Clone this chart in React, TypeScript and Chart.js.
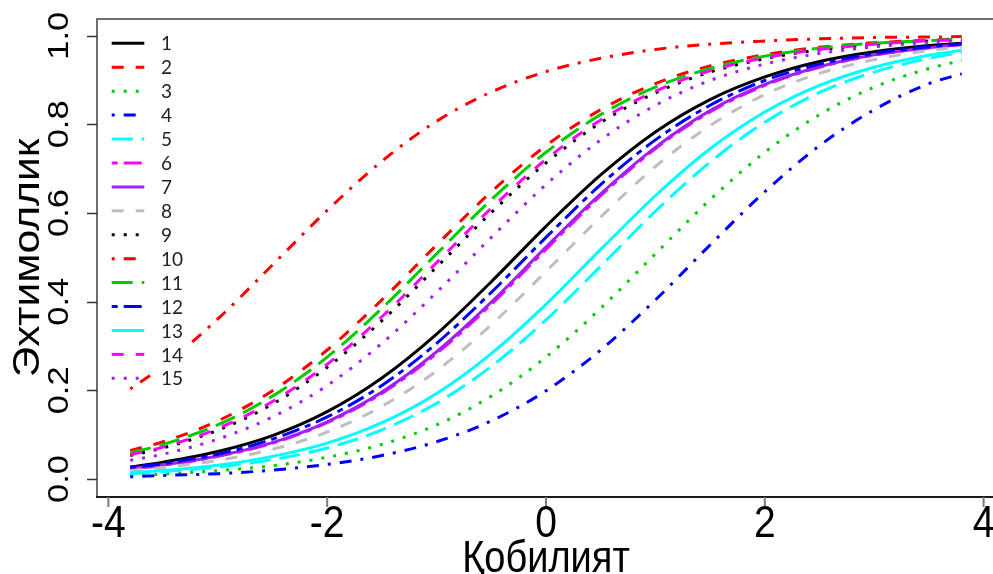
import React, { useEffect, useRef } from "react";
import { Chart, registerables } from "chart.js";

Chart.register(...registerables);

// Ability values (x) at which each curve was read
const THETA = [-3.8, -3.5, -3, -2.5, -2, -1.5, -1, -0.5, 0, 0.5, 1, 1.5, 2, 2.5, 3, 3.5, 3.8];

// Probability values, one array per item
const ITEM_1 = [0.027, 0.038, 0.062, 0.098, 0.152, 0.228, 0.327, 0.445, 0.570, 0.686, 0.783, 0.856, 0.907, 0.942, 0.964, 0.978, 0.983];
const ITEM_2 = [0.064, 0.084, 0.131, 0.199, 0.291, 0.404, 0.528, 0.648, 0.752, 0.833, 0.892, 0.932, 0.957, 0.974, 0.984, 0.990, 0.993];
const ITEM_3 = [0.008, 0.011, 0.019, 0.030, 0.049, 0.078, 0.122, 0.187, 0.275, 0.385, 0.508, 0.630, 0.737, 0.822, 0.884, 0.926, 0.944];
const ITEM_4 = [0.005, 0.008, 0.012, 0.020, 0.033, 0.053, 0.084, 0.131, 0.199, 0.291, 0.404, 0.528, 0.648, 0.752, 0.833, 0.892, 0.914];
const ITEM_5 = [0.012, 0.017, 0.027, 0.044, 0.070, 0.111, 0.171, 0.254, 0.359, 0.480, 0.604, 0.715, 0.805, 0.872, 0.918, 0.949, 0.962];
const ITEM_6 = [0.023, 0.031, 0.051, 0.081, 0.127, 0.193, 0.283, 0.394, 0.518, 0.639, 0.745, 0.828, 0.888, 0.929, 0.956, 0.973, 0.980];
const ITEM_7 = [0.024, 0.032, 0.052, 0.082, 0.129, 0.196, 0.287, 0.399, 0.523, 0.643, 0.748, 0.831, 0.890, 0.930, 0.957, 0.973, 0.980];
const ITEM_8 = [0.019, 0.026, 0.042, 0.067, 0.106, 0.164, 0.244, 0.348, 0.468, 0.591, 0.705, 0.797, 0.867, 0.915, 0.946, 0.967, 0.975];
const ITEM_9 = [0.053, 0.070, 0.110, 0.169, 0.252, 0.357, 0.478, 0.601, 0.713, 0.804, 0.871, 0.918, 0.948, 0.968, 0.980, 0.988, 0.991];
const ITEM_10 = [0.203, 0.255, 0.361, 0.483, 0.606, 0.717, 0.807, 0.873, 0.919, 0.949, 0.969, 0.981, 0.988, 0.993, 0.996, 0.997, 0.998];
const ITEM_11 = [0.059, 0.078, 0.122, 0.187, 0.275, 0.385, 0.508, 0.630, 0.737, 0.822, 0.884, 0.926, 0.954, 0.972, 0.983, 0.989, 0.992];
const ITEM_12 = [0.026, 0.035, 0.056, 0.090, 0.140, 0.211, 0.306, 0.421, 0.545, 0.664, 0.765, 0.843, 0.899, 0.936, 0.960, 0.975, 0.982];
const ITEM_13 = [0.014, 0.019, 0.031, 0.051, 0.081, 0.127, 0.193, 0.283, 0.394, 0.518, 0.639, 0.745, 0.828, 0.888, 0.929, 0.956, 0.967];
const ITEM_14 = [0.055, 0.072, 0.114, 0.175, 0.259, 0.366, 0.488, 0.611, 0.721, 0.810, 0.875, 0.921, 0.950, 0.969, 0.981, 0.989, 0.991];
const ITEM_15 = [0.042, 0.056, 0.090, 0.140, 0.211, 0.306, 0.421, 0.545, 0.664, 0.765, 0.843, 0.899, 0.936, 0.960, 0.975, 0.985, 0.989];

const ITEMS = [ITEM_1, ITEM_2, ITEM_3, ITEM_4, ITEM_5, ITEM_6, ITEM_7, ITEM_8, ITEM_9, ITEM_10, ITEM_11, ITEM_12, ITEM_13, ITEM_14, ITEM_15];
const ITEM_LABELS = ["1", "2", "3", "4", "5", "6", "7", "8", "9", "10", "11", "12", "13", "14", "15"];

const X_TICKS = [-4, -2, 0, 2, 4];
const X_TICK_LABELS = ["-4", "-2", "0", "2", "4"];
const Y_TICKS = [0, 0.2, 0.4, 0.6, 0.8, 1.0];
const Y_TICK_LABELS = ["0.0", "0.2", "0.4", "0.6", "0.8", "1.0"];
const X_TITLE = "Қобилият";
const Y_TITLE = "Эхтимоллик";

// Styles (R palette + line types, cycling)
const PALETTE = ["#000000", "#FF0000", "#00CD00", "#0000FF", "#00FFFF", "#FF00FF", "#A020F0", "#BEBEBE"];
const DASHES: number[][] = [[], [12, 12], [3, 9], [3, 9, 12, 9], [21, 9], [6, 6, 18, 6]];
const LINE_W = 3;
const STRETCH = 1.15;

function drawText(ctx: CanvasRenderingContext2D, text: string, x: number, y: number, font: string, align: CanvasTextAlign, rotate: boolean, stretch: number, baseline: CanvasTextBaseline = "alphabetic") {
  ctx.save();
  ctx.translate(x, y);
  ctx.scale(1, stretch);
  if (rotate) ctx.rotate(-Math.PI / 2);
  ctx.font = font;
  ctx.textAlign = align;
  ctx.textBaseline = baseline;
  ctx.fillText(text, 0, 0);
  ctx.restore();
}

const overlayPlugin = {
  id: "rOverlay",
  afterDatasetsDraw(chart: any) {
    const ctx: CanvasRenderingContext2D = chart.ctx;
    ctx.save();
    const x0 = 111.7, x1 = 144.3, textX = 161;
    ITEM_LABELS.forEach((lab, i) => {
      const ry = 43.3 + i * 23.93;
      ctx.beginPath();
      ctx.setLineDash(DASHES[i % 6]);
      ctx.lineDashOffset = 0;
      ctx.strokeStyle = PALETTE[i % 8];
      ctx.lineWidth = LINE_W;
      ctx.lineCap = "butt";
      ctx.moveTo(x0, ry);
      ctx.lineTo(x1, ry);
      ctx.stroke();
      ctx.setLineDash([]);
      ctx.fillStyle = "#ffffff";
      ctx.fillRect(152, ry - 12, 36, 24);
      ctx.fillStyle = "#222222";
      ctx.font = "19px Lato";
      ctx.textAlign = "left";
      ctx.textBaseline = "middle";
      ctx.fillText(lab, textX, ry + 1);
    });
    ctx.restore();
  },
  afterDraw(chart: any) {
    const ctx: CanvasRenderingContext2D = chart.ctx;
    const a = chart.chartArea;
    const xs = chart.scales.x;
    const ys = chart.scales.y;
    ctx.save();
    ctx.setLineDash([]);
    // frame
    ctx.lineWidth = 2;
    ctx.strokeStyle = "#6e6e6e";
    ctx.beginPath();
    ctx.moveTo(a.left, a.bottom);
    ctx.lineTo(a.left, a.top);
    ctx.lineTo(a.right + 5, a.top);
    ctx.stroke();
    ctx.strokeStyle = "#1a1a1a";
    ctx.beginPath();
    ctx.moveTo(a.left - 1, a.bottom);
    ctx.lineTo(a.right + 5, a.bottom);
    ctx.stroke();
    // y ticks
    ctx.strokeStyle = "#333333";
    ctx.lineWidth = 1.5;
    Y_TICKS.forEach((v) => {
      const py = Math.round(ys.getPixelForValue(v)) + 0.5;
      ctx.beginPath();
      ctx.moveTo(a.left - 10, py);
      ctx.lineTo(a.left, py);
      ctx.stroke();
    });
    // x ticks
    ctx.strokeStyle = "#7a7a7a";
    ctx.lineWidth = 2;
    X_TICKS.forEach((v) => {
      const px = xs.getPixelForValue(v);
      ctx.beginPath();
      ctx.moveTo(px, a.bottom);
      ctx.lineTo(px, a.bottom + 10);
      ctx.stroke();
    });
    ctx.fillStyle = "#000000";
    X_TICKS.forEach((v, i) => {
      drawText(ctx, X_TICK_LABELS[i], xs.getPixelForValue(v), 537, "39px 'Liberation Sans'", "center", false, STRETCH);
    });
    Y_TICKS.forEach((v, i) => {
      drawText(ctx, Y_TICK_LABELS[i], 68, ys.getPixelForValue(v), "30px 'Liberation Sans'", "center", true, STRETCH);
    });
    drawText(ctx, X_TITLE, (a.left + 995) / 2, 572, "38px 'Liberation Sans'", "center", false, STRETCH);
    drawText(ctx, Y_TITLE, 39, (a.top + a.bottom) / 2, "37px 'Liberation Sans'", "center", true, STRETCH);
    ctx.restore();
  },
};

export default function App() {
  const ref = useRef<HTMLCanvasElement | null>(null);
  useEffect(() => {
    if (!ref.current) return;
    document.body.style.overflow = "hidden";
    const datasets = ITEMS.map((vals, i) => ({
      label: ITEM_LABELS[i],
      data: THETA.map((t, k) => ({ x: t, y: vals[k] })),
      borderColor: PALETTE[i % 8],
      borderDash: DASHES[i % 6],
      borderWidth: LINE_W,
      borderCapStyle: "butt" as const,
      borderJoinStyle: "round" as const,
      fill: false,
      pointRadius: 0,
      cubicInterpolationMode: "monotone" as const,
      order: ITEMS.length - i,
    }));
    const chart = new Chart(ref.current, {
      type: "line",
      data: { datasets },
      options: {
        animation: false,
        responsive: false,
        devicePixelRatio: 1,
        layout: { padding: { left: 97, right: 0, top: 19, bottom: 77 } },
        plugins: { legend: { display: false }, tooltip: { enabled: false } },
        scales: {
          x: { type: "linear", min: -4.104, max: 4.086, display: false },
          y: { type: "linear", min: -0.0406, max: 1.0377, display: false },
        },
      },
      plugins: [overlayPlugin],
    });
    return () => chart.destroy();
  }, []);
  return (
    <div style={{ position: "absolute", left: 0, top: 0, width: 993, height: 574, background: "#ffffff" }}>
      <canvas ref={ref} width={993} height={574} style={{ display: "block" }} />
    </div>
  );
}
